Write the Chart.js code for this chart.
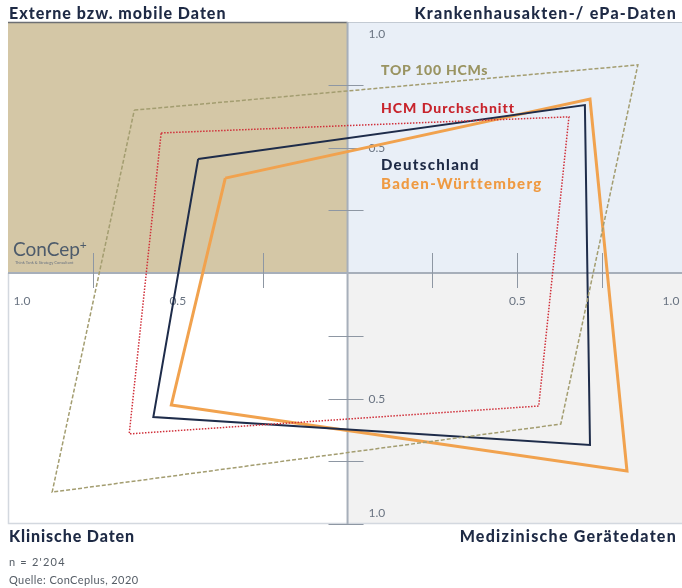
<!DOCTYPE html>
<html>
<head>
<meta charset="utf-8">
<script src="https://cdn.jsdelivr.net/npm/chart.js@4"></script>
<style>
  html, body { margin: 0; padding: 0; background: #ffffff; }
  #wrap { position: relative; width: 682px; height: 588px; overflow: hidden; font-family: "Lato", "DejaVu Sans", sans-serif; }
  canvas { position: absolute; left: 0; top: 0; }
  .t { position: absolute; white-space: nowrap; font-weight: 900; color: #1e2a45; font-size: 16px; line-height: 1; letter-spacing: 1.1px; }
  .s { position: absolute; white-space: nowrap; font-weight: 900; font-size: 14px; line-height: 1; }
  .f { position: absolute; white-space: nowrap; font-size: 11px; color: #555d66; line-height: 1; letter-spacing: 0.4px; }
  .logo { position: absolute; left: 13px; top: 239px; color: #4d5b6b; font-size: 19px; line-height: 1; font-family: "Lato", sans-serif; }
  .logo sup { font-size: 12px; vertical-align: 7px; }
  .tag { position: absolute; left: 15px; top: 261px; color: #6a7380; font-size: 4px; line-height: 1; }
</style>
</head>
<body>
<div id="wrap">
  <canvas id="c" width="682" height="588"></canvas>
  <div class="t" style="left:9px; top:5px; letter-spacing:1px;">Externe bzw. mobile Daten</div>
  <div class="t" style="right:5px; top:5px; letter-spacing:1.25px;">Krankenhausakten-/ ePa-Daten</div>
  <div class="t" style="left:9px; top:528px; letter-spacing:0.9px;">Klinische Daten</div>
  <div class="t" style="right:5px; top:528px; letter-spacing:1.25px;">Medizinische Gerätedaten</div>
  <div class="f" style="left:9px; top:556px; letter-spacing:1.2px;">n = 2'204</div>
  <div class="f" style="left:9px; top:574px;">Quelle: ConCeplus, 2020</div>
  <div class="logo">ConCep<sup>+</sup></div>
  <div class="tag">Think Tank &amp; Strategy Consultant</div>
  <div class="s" style="left:381px; top:63px; color:#9a9462; letter-spacing:0.75px;">TOP 100 HCMs</div>
  <div class="s" style="left:381px; top:101px; color:#c8242c; letter-spacing:1px;">HCM Durchschnitt</div>
  <div class="s" style="left:381px; top:157px; color:#1e2a45; font-size:15px; letter-spacing:1.3px;">Deutschland</div>
  <div class="s" style="left:381px; top:176px; color:#ef9a42; font-size:15px; letter-spacing:1.3px;">Baden-Württemberg</div>
</div>
<script>
// Vertex order: Externe (top-left), Krankenhausakten (top-right), Medizinische Gerätedaten (bottom-right), Klinische (bottom-left)
const seriesNames = ["TOP 100 HCMs", "HCM Durchschnitt", "Deutschland", "Baden-Württemberg"];
const top100X = [-0.628, 0.855, 0.628, -0.870];
const top100Y = [0.649, 0.829, -0.602, -0.873];
const hcmX = [-0.549, 0.652, 0.563, -0.643];
const hcmY = [0.558, 0.622, -0.530, -0.641];
const deX = [-0.440, 0.699, 0.714, -0.572];
const deY = [0.454, 0.669, -0.685, -0.574];
const bwX = [-0.360, 0.714, 0.823, -0.519];
const bwY = [0.378, 0.693, -0.789, -0.526];
const xTickLabels = [-1.0, -0.5, 0.5, 1.0];
const yTickLabels = [1.0, 0.5, -0.5, -1.0];
const xTickMarks = [-0.75, -0.25, 0.25, 0.5, 0.75];
const yTickMarks = [0.75, 0.5, 0.25, -0.25, -0.5, -0.75, -1.0];

function poly(xs, ys) {
  const pts = xs.map((x, i) => ({ x: x, y: ys[i] }));
  pts.push({ x: xs[0], y: ys[0] });
  return pts;
}

const quadPlugin = {
  id: 'quad',
  beforeDatasetsDraw(chart) {
    const { ctx, chartArea: a, scales: { x, y } } = chart;
    const cx = x.getPixelForValue(0), cy = y.getPixelForValue(0);
    ctx.save();
    ctx.fillStyle = '#d4c7a6'; ctx.fillRect(a.left, a.top, cx - a.left, cy - a.top);
    ctx.fillStyle = '#e9eff7'; ctx.fillRect(cx, a.top, a.right - cx, cy - a.top);
    ctx.fillStyle = '#ffffff'; ctx.fillRect(a.left, cy, cx - a.left, a.bottom - cy);
    ctx.fillStyle = '#f2f2f2'; ctx.fillRect(cx, cy, a.right - cx, a.bottom - cy);
    // borders
    ctx.strokeStyle = '#d3d8df'; ctx.lineWidth = 1.5;
    ctx.beginPath();
    ctx.moveTo(a.left + 0.5, cy); ctx.lineTo(a.left + 0.5, a.bottom - 0.5); ctx.lineTo(a.right, a.bottom - 0.5);
    ctx.stroke();
    ctx.strokeStyle = '#6d6f73'; ctx.lineWidth = 1.5;
    ctx.beginPath(); ctx.moveTo(a.left, a.top + 0.5); ctx.lineTo(cx, a.top + 0.5); ctx.stroke();
    ctx.strokeStyle = '#c3cad3'; ctx.lineWidth = 1;
    ctx.beginPath(); ctx.moveTo(cx, a.top + 0.5); ctx.lineTo(a.right, a.top + 0.5); ctx.stroke();
    // centre lines
    ctx.strokeStyle = '#a7afba'; ctx.lineWidth = 2;
    ctx.beginPath();
    ctx.moveTo(cx, a.top); ctx.lineTo(cx, a.bottom);
    ctx.moveTo(a.left, cy); ctx.lineTo(a.right, cy);
    ctx.stroke();
    // tick marks
    ctx.strokeStyle = '#8e97a3'; ctx.lineWidth = 1;
    ctx.beginPath();
    yTickMarks.forEach(v => { const py = Math.round(y.getPixelForValue(v)) + 0.5; ctx.moveTo(cx - 19, py); ctx.lineTo(cx + 16, py); });
    xTickMarks.forEach(v => { const px = Math.round(x.getPixelForValue(v)) + 0.5; ctx.moveTo(px, cy - 20); ctx.lineTo(px, cy + 15); });
    ctx.stroke();
    // tick labels
    ctx.fillStyle = '#6a7482';
    ctx.font = '12px "Lato", sans-serif';
    ctx.textBaseline = 'middle';
    ctx.textAlign = 'center';
    xTickLabels.forEach(v => {
      let px = x.getPixelForValue(v);
      px = Math.max(a.left + 14, Math.min(a.right - 11, px));
      ctx.fillText(Math.abs(v).toFixed(1), px, cy + 28);
    });
    ctx.textAlign = 'left';
    yTickLabels.forEach(v => {
      let py = y.getPixelForValue(v);
      py = Math.max(a.top + 11, Math.min(a.bottom - 12, py));
      ctx.fillText(Math.abs(v).toFixed(1), cx + 21, py + 1);
    });
    ctx.restore();
  }
};

new Chart(document.getElementById('c'), {
  type: 'scatter',
  data: {
    datasets: [
      { label: seriesNames[0], data: poly(top100X, top100Y), showLine: true, borderColor: '#a39d70', borderWidth: 1.5, borderDash: [4, 2], pointRadius: 0, fill: false, tension: 0 },
      { label: seriesNames[1], data: poly(hcmX, hcmY), showLine: true, borderColor: '#d0303a', borderWidth: 1.5, borderDash: [1.5, 1.5], pointRadius: 0, fill: false, tension: 0 },
      { label: seriesNames[2], data: poly(deX, deY), showLine: true, borderColor: '#1e2c4a', borderWidth: 2, pointRadius: 0, fill: false, tension: 0 },
      { label: seriesNames[3], data: poly(bwX, bwY), showLine: true, borderColor: '#f1a24e', borderWidth: 3, pointRadius: 0, fill: false, tension: 0 }
    ]
  },
  options: {
    responsive: false,
    animation: false,
    layout: { padding: { left: 8, top: 22, right: 0, bottom: 64 } },
    plugins: { legend: { display: false }, tooltip: { enabled: false } },
    scales: {
      x: { type: 'linear', min: -1, max: 0.985, display: false },
      y: { type: 'linear', min: -1, max: 1, display: false }
    }
  },
  plugins: [quadPlugin]
});
</script>
</body>
</html>
